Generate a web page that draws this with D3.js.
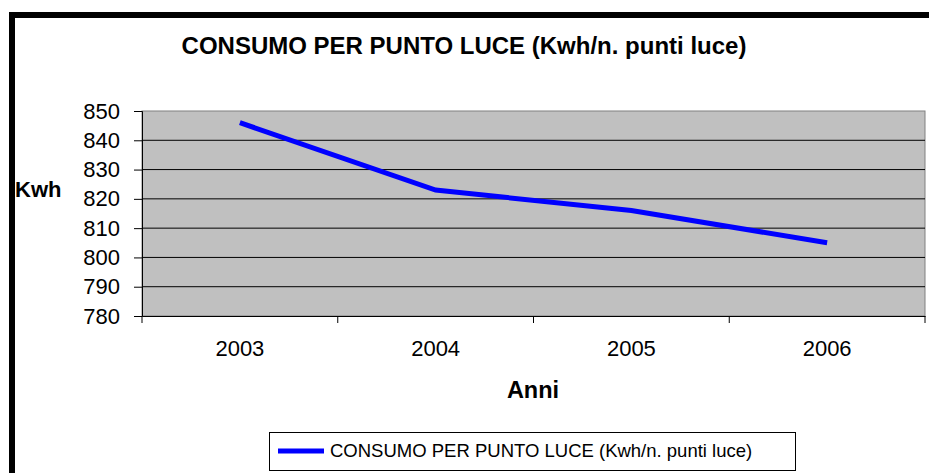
<!DOCTYPE html>
<html>
<head>
<meta charset="utf-8">
<script src="https://cdn.jsdelivr.net/npm/d3@7"></script>
<style>
  body { margin: 0; background: #ffffff; }
  svg { display: block; font-family: "Liberation Sans", Arial, sans-serif; }
</style>
</head>
<body>
<div id="chart"></div>
<script>
var years = ["2003", "2004", "2005", "2006"];
var consumo = [846, 823, 816, 805];
var yTicks = [780, 790, 800, 810, 820, 830, 840, 850];
var seriesName = "CONSUMO PER PUNTO LUCE (Kwh/n. punti luce)";

var width = 929, height = 473;
var plot = { left: 142, top: 111, right: 925, bottom: 316 };

var svg = d3.select("#chart").append("svg")
  .attr("width", width)
  .attr("height", height);

// outer frame (runs off right and bottom)
svg.append("rect")
  .attr("x", 12).attr("y", 15)
  .attr("width", width + 20).attr("height", height + 20)
  .attr("fill", "#ffffff")
  .attr("stroke", "#000000")
  .attr("stroke-width", 6);

svg.append("text")
  .attr("x", 464).attr("y", 54)
  .attr("text-anchor", "middle")
  .attr("font-weight", "bold")
  .attr("font-size", 24)
  .text(seriesName);

var x = d3.scaleBand()
  .domain(years)
  .range([plot.left, plot.right]);

var y = d3.scaleLinear()
  .domain([780, 850])
  .range([plot.bottom, plot.top]);

var g = svg.append("g");

g.append("rect")
  .attr("x", plot.left).attr("y", plot.top)
  .attr("width", plot.right - plot.left)
  .attr("height", plot.bottom - plot.top)
  .attr("fill", "#c0c0c0")
  .attr("stroke", "#808080")
  .attr("stroke-width", 1);

g.selectAll(".grid")
  .data(yTicks.filter(function(d) { return d > 780 && d < 850; }))
  .enter().append("line")
  .attr("class", "grid")
  .attr("x1", plot.left).attr("x2", plot.right)
  .attr("y1", function(d) { return y(d); })
  .attr("y2", function(d) { return y(d); })
  .attr("stroke", "#000000")
  .attr("stroke-width", 1);

var yAxis = g.append("g")
  .attr("transform", "translate(" + plot.left + ",0)")
  .call(d3.axisLeft(y).tickValues(yTicks).tickSize(8).tickPadding(14));
yAxis.select(".domain").attr("stroke", "#000000");
yAxis.selectAll("text")
  .attr("font-size", 22)
  .attr("fill", "#000000")
  .attr("font-family", "Liberation Sans, Arial, sans-serif");

var xAxis = g.append("g")
  .attr("transform", "translate(0," + plot.bottom + ")")
  .call(d3.axisBottom(x).tickSize(0).tickPadding(24));
xAxis.select(".domain").attr("stroke", "#000000");
xAxis.selectAll("text")
  .attr("font-size", 22)
  .attr("fill", "#000000")
  .attr("font-family", "Liberation Sans, Arial, sans-serif");

// category boundary ticks
var bounds = years.map(function(d) { return x(d); }).concat([x.range()[1]]);
g.selectAll(".xtick")
  .data(bounds)
  .enter().append("line")
  .attr("class", "xtick")
  .attr("x1", function(d) { return d; })
  .attr("x2", function(d) { return d; })
  .attr("y1", plot.bottom)
  .attr("y2", plot.bottom + 7)
  .attr("stroke", "#000000");

var line = d3.line()
  .x(function(d, i) { return x(years[i]) + x.bandwidth() / 2; })
  .y(function(d) { return y(d); });

g.append("path")
  .datum(consumo)
  .attr("d", line)
  .attr("fill", "none")
  .attr("stroke", "#0000ff")
  .attr("stroke-width", 5);

svg.append("text")
  .attr("x", 15).attr("y", 197)
  .attr("font-weight", "bold")
  .attr("font-size", 22)
  .text("Kwh");

svg.append("text")
  .attr("x", 533).attr("y", 398)
  .attr("text-anchor", "middle")
  .attr("font-weight", "bold")
  .attr("font-size", 23.5)
  .text("Anni");

// legend
var legend = svg.append("g");
legend.append("rect")
  .attr("x", 269.5).attr("y", 432.5)
  .attr("width", 526).attr("height", 38)
  .attr("fill", "#ffffff")
  .attr("stroke", "#000000")
  .attr("stroke-width", 1);
legend.append("line")
  .attr("x1", 278).attr("x2", 324)
  .attr("y1", 451).attr("y2", 451)
  .attr("stroke", "#0000ff")
  .attr("stroke-width", 5);
legend.append("text")
  .attr("x", 330).attr("y", 457)
  .attr("font-size", 18.5)
  .text(seriesName);
</script>
</body>
</html>
